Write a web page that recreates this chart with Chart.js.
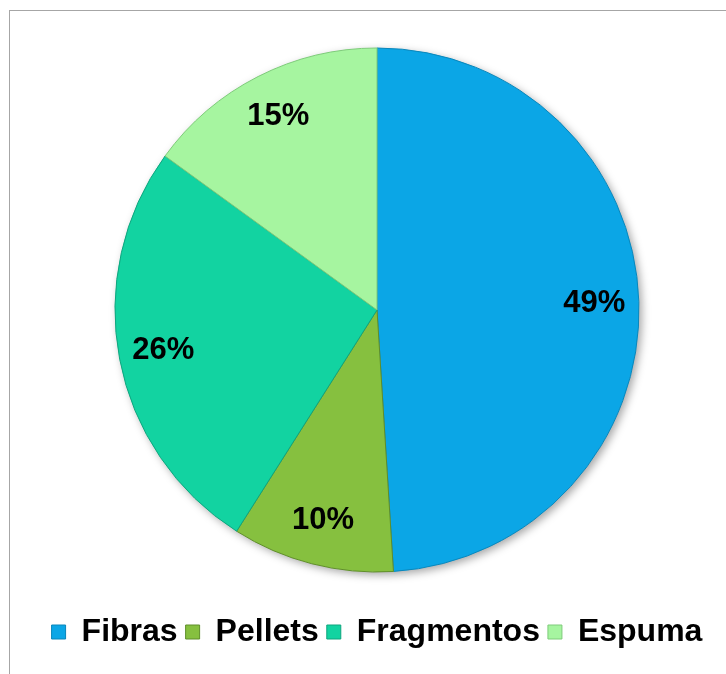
<!DOCTYPE html>
<html>
<head>
<meta charset="utf-8">
<script src="https://cdn.jsdelivr.net/npm/chart.js@4"></script>
<style>
  body { margin: 0; background: #fff; }
  #frame { position: absolute; left: 9px; top: 10px; width: 900px; height: 900px; border: 1px solid #a6a6a6; }
  #myChart { position: absolute; left: 0; top: 0; }
</style>
</head>
<body>
<div id="frame"></div>
<canvas id="myChart" width="726" height="674"></canvas>
<script>
const ctx = document.querySelector('#myChart').getContext('2d');

const labels = ['Fibras', 'Pellets', 'Fragmentos', 'Espuma'];
const values = [49, 10, 26, 15];
const colors = ['#0BA6E6', '#86C03F', '#12D3A1', '#A6F5A0'];
const edges = ['#0A86BA', '#5F8E2A', '#0EA57E', '#7ECB7A'];

// soft shadow under the pie
const pieShadow = {
    id: 'pieShadow',
    beforeDatasetsDraw(chart) {
        const arc = chart.getDatasetMeta(0).data[0];
        if (!arc) return;
        const c = chart.ctx;
        c.save();
        c.shadowColor = 'rgba(0,0,0,0.35)';
        c.shadowBlur = 8;
        c.shadowOffsetX = 3;
        c.shadowOffsetY = 3;
        c.fillStyle = '#fff';
        c.beginPath();
        c.arc(arc.x, arc.y, arc.outerRadius, 0, Math.PI * 2);
        c.fill();
        c.restore();
    }
};

// percentage labels inside the slices
const sliceLabels = {
    id: 'sliceLabels',
    afterDatasetsDraw(chart) {
        const c = chart.ctx;
        c.save();
        c.font = 'bold 31px "Liberation Sans", Arial, sans-serif';
        c.fillStyle = '#000';
        c.textAlign = 'center';
        c.textBaseline = 'middle';
        chart.getDatasetMeta(0).data.forEach((arc, i) => {
            const p = arc.getProps(['x', 'y', 'startAngle', 'endAngle', 'outerRadius'], true);
            const mid = (p.startAngle + p.endAngle) / 2;
            const r = p.outerRadius * 0.83;
            c.fillText(values[i] + '%', p.x + Math.cos(mid) * r, p.y + Math.sin(mid) * r);
        });
        c.restore();
    }
};

const data = {
    labels,
    datasets: [
        {
            data: values,
            backgroundColor: colors,
            borderColor: edges,
            borderWidth: 1,
            radius: 262,
        },
    ],
};

const config = {
    type: 'pie',
    data: data,
    options: {
        responsive: false,
        animation: false,
        layout: { padding: { top: 12, bottom: 16, left: 28, right: 0 } },
        plugins: {
            tooltip: { enabled: false },
            legend: {
                position: 'bottom',
                labels: {
                    color: '#000',
                    boxWidth: 14,
                    boxHeight: 14,
                    padding: 8,
                    font: { family: '"Liberation Sans", Arial, sans-serif', size: 32, weight: 'bold' },
                },
            },
        },
    },
    plugins: [pieShadow, sliceLabels],
};

const myChart = new Chart(ctx, config);
</script>
</body>
</html>
